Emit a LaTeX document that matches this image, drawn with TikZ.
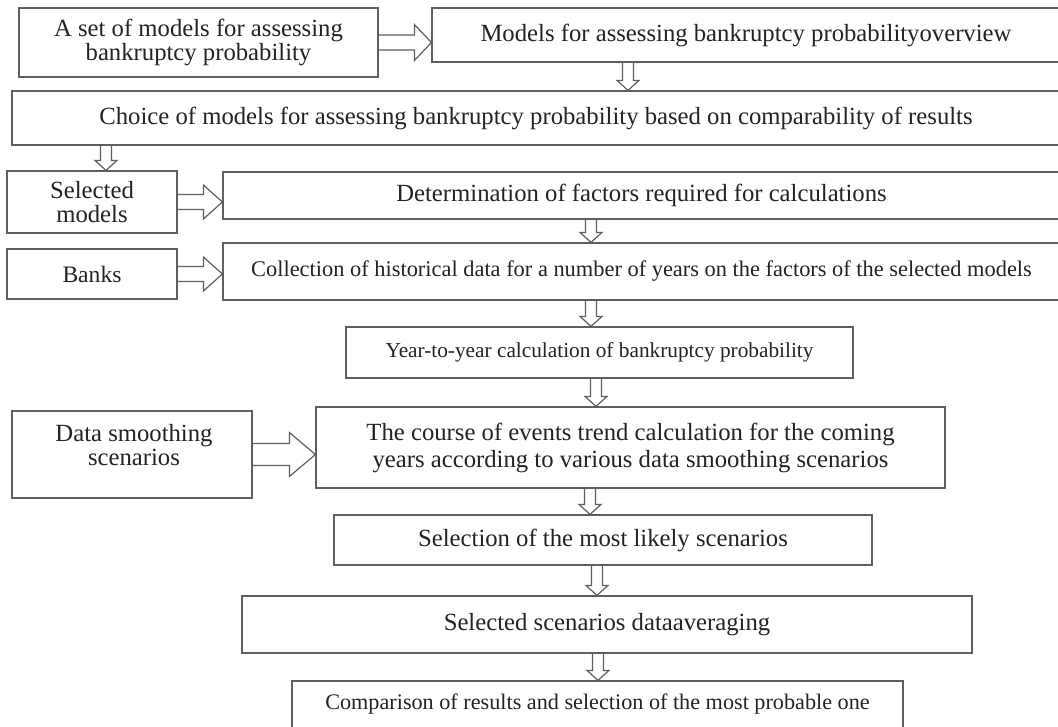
\documentclass[tikz,border=0pt]{standalone}
\usepackage{fontspec}
\setmainfont{Liberation Serif}
\usetikzlibrary{calc}
\definecolor{linecol}{RGB}{95,95,95}
\definecolor{textcol}{RGB}{35,35,35}
\newcommand\hblk[5]{%
  \draw[arr] let \p1=(#1.east), \p2=(#2.west) in
    (\x1,\y1+#3pt) -- (\x2-#5pt,\y1+#3pt) -- (\x2-#5pt,\y1+#4pt) -- (\x2,\y1)
    -- (\x2-#5pt,\y1-#4pt) -- (\x2-#5pt,\y1-#3pt) -- (\x1,\y1-#3pt);}
\newcommand\vblk[3]{%
  \draw[arr] let \p1=(#1.south), \p2=(#2.north) in
    (#3pt-5.5pt,\y1) -- (#3pt-5.5pt,\y2+10pt) -- (#3pt-11pt,\y2+10pt) -- (#3pt,\y2)
    -- (#3pt+11pt,\y2+10pt) -- (#3pt+5.5pt,\y2+10pt) -- (#3pt+5.5pt,\y1);}
\begin{document}
\begin{tikzpicture}[x=1pt,y=-1pt,
  box/.style={draw=linecol, line width=1.2pt, rectangle, inner sep=0pt, align=center,
    text=textcol, font=\fontsize{24.7}{23.5}\selectfont},
  txt/.style={inner sep=0pt, align=center, text=textcol, font=\fontsize{24.7}{24}\selectfont},
  arr/.style={draw=linecol, line width=1.2pt, line join=miter}]
\clip (0,0) rectangle (1058,726);
\fill[white] (0,0) rectangle (1058,726);

\node[box, minimum width=359pt, minimum height=69pt] (b1) at (198.5,42.5) {A set of models for assessing\\bankruptcy probability};
\node[box, minimum width=628pt, minimum height=54pt] (b2) at (746,35) {Models for assessing bankruptcy probabilityoverview};
\node[box, minimum width=1048pt, minimum height=54pt] (b3) at (536,118) {Choice of models for assessing bankruptcy probability based on comparability of results};
\node[box, minimum width=170pt, minimum height=62pt] (b4) at (92,202) {Selected\\models};
\node[box, minimum width=837pt, minimum height=47pt] (b5) at (641.5,195.5) {Determination of factors required for calculations};
\node[box, minimum width=170pt, minimum height=50pt, font=\fontsize{23.6}{22}\selectfont] (b6) at (92,274) {Banks};
\node[box, minimum width=837pt, minimum height=57pt, font=\fontsize{22.4}{22}\selectfont] (b7) at (641.5,271.5) {Collection of historical data for a number of years on the factors of the selected models};
\node[box, minimum width=507pt, minimum height=51pt, font=\fontsize{21.3}{22}\selectfont] (b8) at (599.5,352.5) {Year-to-year calculation of bankruptcy probability};
\node[box, minimum width=240pt, minimum height=87pt] (b9) at (132,454.5) {};
\node[txt] (b9t) at (134,445) {Data smoothing\\scenarios};
\node[box, minimum width=629pt, minimum height=81pt, font=\fontsize{24.7}{27}\selectfont] (b10) at (630.5,447.5) {The course of events trend calculation for the coming\\years according to various data smoothing scenarios};
\node[box, minimum width=538pt, minimum height=50pt] (b11) at (603,540) {Selection of the most likely scenarios};
\node[box, minimum width=730pt, minimum height=57pt] (b12) at (607,624.5) {Selected scenarios dataaveraging};
\node[box, minimum width=611pt, minimum height=47pt, font=\fontsize{22.2}{22}\selectfont] (b13) at (597.5,704.5) {Comparison of results and selection of the most probable one};

\hblk{b1}{b2}{7.5}{18}{17}
\vblk{b2}{b3}{628}
\vblk{b3}{b4}{106}
\hblk{b4}{b5}{7.5}{17}{19}
\vblk{b5}{b7}{591}
\hblk{b6}{b7}{7.5}{17}{19}
\vblk{b7}{b8}{591}
\vblk{b8}{b10}{596}
\hblk{b9}{b10}{11}{22}{26}
\vblk{b10}{b11}{590}
\vblk{b11}{b12}{597}
\vblk{b12}{b13}{598}
\end{tikzpicture}
\end{document}
